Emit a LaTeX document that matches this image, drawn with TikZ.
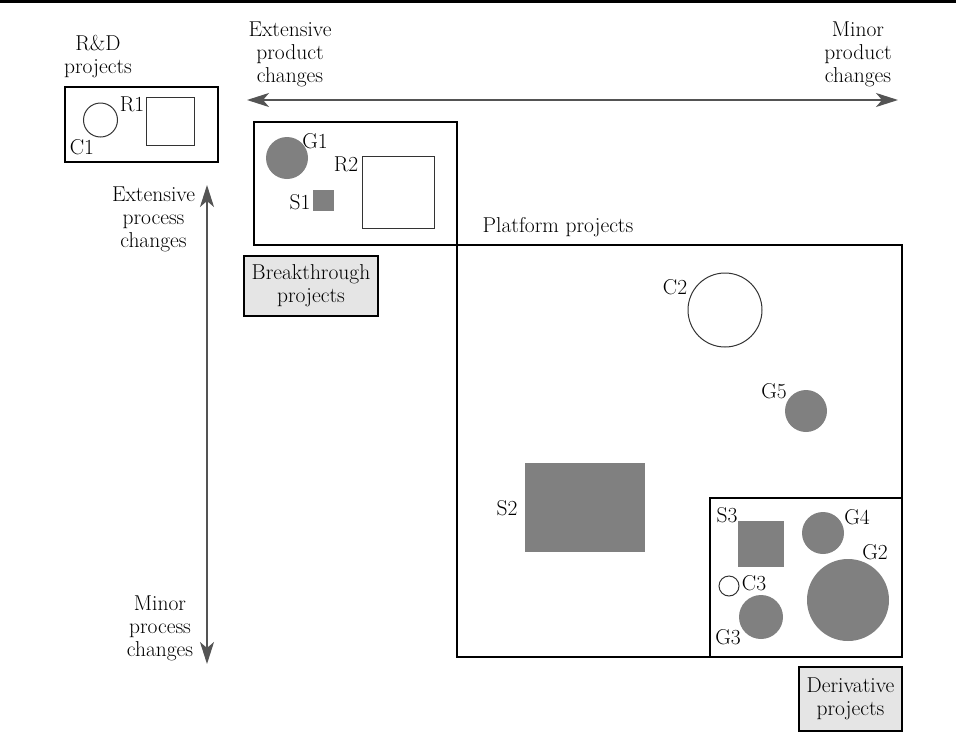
\documentclass[tikz,border=0pt]{standalone}
\usetikzlibrary{arrows.meta}
\definecolor{shade}{gray}{0.5}
\definecolor{tagfill}{gray}{0.9}
\definecolor{axis}{gray}{0.33}
\begin{document}
\begin{tikzpicture}[x=1pt,y=-1pt,
  every node/.style={font=\fontsize{21.5}{23}\selectfont, inner sep=0pt},
  frame/.style={draw=black, line width=1.4pt, rectangle},
  tagbox/.style={draw=black, line width=1.2pt, fill=tagfill, rectangle, align=center},
  ring/.style={draw=black!80, line width=1pt, circle},
  disc/.style={fill=shade, circle},
  opensq/.style={draw=black!80, line width=1pt, rectangle},
  solidsq/.style={fill=shade, rectangle},
  caption/.style={align=center},
  axisarrow/.style={draw=axis, line width=1.8pt,
    {Stealth[length=22pt,width=14pt,inset=6pt]}-{Stealth[length=22pt,width=14pt,inset=6pt]}}
]
\useasboundingbox (0,0) rectangle (956,745);

% heading rule
\coordinate (ruleL) at (0,1.6);
\coordinate (ruleR) at (956,1.6);
\draw[line width=3.2pt] (ruleL) -- (ruleR);

% axes
\coordinate (prodL) at (247,100);
\coordinate (prodR) at (898,100);
\draw[axisarrow] (prodL) -- (prodR);
\coordinate (procT) at (207,185);
\coordinate (procB) at (207,664);
\draw[axisarrow] (procT) -- (procB);

\node[caption] (extprod) at (290,54) {Extensive\\product\\changes};
\node[caption] (minprod) at (858,54) {Minor\\product\\changes};
\node[caption] (extproc) at (153.5,219) {Extensive\\process\\changes};
\node[caption] (minproc) at (160,628) {Minor\\process\\changes};

% R&D projects
\node[caption] (rdtitle) at (98,57) {R\&D\\projects};
\node[frame, minimum width=153pt, minimum height=75pt] (rdbox) at (141.5,124.5) {};
\node[ring, minimum size=34pt] (c1) at (100.5,120) {};
\node[opensq, minimum size=48pt] (r1) at (170,121) {};
\node (c1lab) at (82,147) {C1};
\node (r1lab) at (132,104) {R1};

% breakthrough projects
\node[frame, minimum width=203pt, minimum height=123pt] (bkbox) at (355.5,183.5) {};
\node[disc, minimum size=42pt] (g1) at (287,158) {};
\node[opensq, minimum size=72pt] (r2) at (398,192) {};
\node[solidsq, minimum size=21pt] (s1) at (323.5,200.5) {};
\node (g1lab) at (315,141) {G1};
\node (r2lab) at (346,164) {R2};
\node (s1lab) at (300,202) {S1};
\node[tagbox, minimum width=134pt, minimum height=60pt] (bktag) at (311,286) {Breakthrough\\projects};

% platform projects
\node (pftitle) at (558,227) {Platform projects};
\node[frame, minimum width=445pt, minimum height=412pt] (pfbox) at (679.5,451) {};
\node[ring, minimum size=74pt] (c2) at (725,310) {};
\node[disc, minimum size=42pt] (g5) at (806,411) {};
\node[solidsq, minimum width=120pt, minimum height=89pt] (s2) at (585,507.5) {};
\node (c2lab) at (675,287) {C2};
\node (g5lab) at (774,391) {G5};
\node (s2lab) at (507,508) {S2};

% derivative projects
\node[frame, minimum width=192pt, minimum height=159pt] (dvbox) at (806,577.5) {};
\node[solidsq, minimum size=46pt] (s3) at (761,544) {};
\node[disc, minimum size=42pt] (g4) at (823,533) {};
\node[disc, minimum size=82pt] (g2) at (848,600) {};
\node[ring, minimum size=20pt] (c3) at (729,586) {};
\node[disc, minimum size=44pt] (g3) at (761,617) {};
\node (s3lab) at (727,515) {S3};
\node (g4lab) at (857,517) {G4};
\node (g2lab) at (875,552) {G2};
\node (c3lab) at (754,583) {C3};
\node (g3lab) at (728,637) {G3};
\node[tagbox, minimum width=103pt, minimum height=64pt] (dvtag) at (850.5,699) {Derivative\\projects};
\end{tikzpicture}
\end{document}
